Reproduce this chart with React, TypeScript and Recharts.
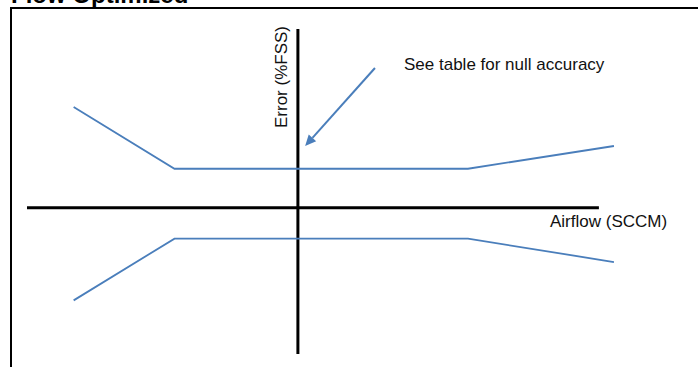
import React from "react";
import {
  LineChart,
  Line,
  XAxis,
  YAxis,
  ReferenceLine,
  Customized,
} from "recharts";

// Airflow (arbitrary units, 0 = null flow) and error envelope (%FSS)
const airflow = [-7.45, -4.1, 5.65, 10.5];
const upperError = [3.1, 1.2, 1.2, 1.9];
const lowerError = [-2.85, -0.95, -0.95, -1.67];

// axis extents and annotation arrow, in data units
const X_DOMAIN: [number, number] = [-9, 11];
const Y_DOMAIN: [number, number] = [-4.5, 5.5];
const X_AXIS_END = 10;
const ARROW_FROM = { x: 2.56, y: 4.3 };
const ARROW_TO = { x: 0.24, y: 1.9 };

const LINE_BLUE = "#4a7ebb";
const FONT = "'Liberation Sans', Arial, sans-serif";

const data = airflow.map((x, i) => ({
  x,
  upper: upperError[i],
  lower: lowerError[i],
}));

// shaft + filled head for the callout arrow
const ArrowShape = (props: any) => {
  const { x1, y1, x2, y2 } = props;
  if ([x1, y1, x2, y2].some((v) => v == null || isNaN(v))) return null;
  const ang = Math.atan2(y2 - y1, x2 - x1);
  const len = 11;
  const half = 5;
  const bx = x2 - len * Math.cos(ang);
  const by = y2 - len * Math.sin(ang);
  const px = -Math.sin(ang) * half;
  const py = Math.cos(ang) * half;
  return (
    <g>
      <line x1={x1} y1={y1} x2={bx} y2={by} stroke={LINE_BLUE} strokeWidth={2} />
      <polygon
        points={`${x2},${y2} ${bx + px},${by + py} ${bx - px},${by - py}`}
        fill={LINE_BLUE}
      />
    </g>
  );
};

const Annotations = () => (
  <g fontFamily={FONT} fontSize={17} fill="#111">
    <text x={404} y={70}>See table for null accuracy</text>
    <text x={550} y={227}>Airflow (SCCM)</text>
    <text x={287} y={77} textAnchor="middle" transform="rotate(-90 287 77)">
      Error (%FSS)
    </text>
  </g>
);

export default function App() {
  return (
    <div style={{ position: "absolute", left: 0, top: 0, width: 698, height: 367, overflow: "hidden", background: "#fff" }}>
      {/* title, mostly clipped off the top edge */}
      <div
        style={{
          position: "absolute",
          left: 11,
          top: -19,
          fontFamily: FONT,
          fontWeight: "bold",
          fontSize: 24,
          lineHeight: "27px",
          whiteSpace: "nowrap",
        }}
      >
        Flow Optimized
      </div>
      {/* frame: top and left edges */}
      <div
        style={{
          position: "absolute",
          left: 10,
          top: 7,
          width: 700,
          height: 400,
          borderTop: "2px solid #000",
          borderLeft: "2px solid #000",
        }}
      />
      <div style={{ position: "absolute", left: 0, top: 0 }}>
        <LineChart
          width={698}
          height={367}
          data={data}
          margin={{ top: 29, right: 69, bottom: 13, left: 27 }}
        >
          <XAxis type="number" dataKey="x" domain={X_DOMAIN} hide />
          <YAxis type="number" domain={Y_DOMAIN} hide />
          <ReferenceLine
            segment={[
              { x: X_DOMAIN[0], y: 0 },
              { x: X_AXIS_END, y: 0 },
            ]}
            stroke="#000"
            strokeWidth={3}
          />
          <ReferenceLine
            segment={[
              { x: 0, y: Y_DOMAIN[0] },
              { x: 0, y: Y_DOMAIN[1] },
            ]}
            stroke="#000"
            strokeWidth={3}
          />
          <Line
            dataKey="upper"
            stroke={LINE_BLUE}
            strokeWidth={1.8}
            dot={false}
            activeDot={false}
            isAnimationActive={false}
          />
          <Line
            dataKey="lower"
            stroke={LINE_BLUE}
            strokeWidth={1.8}
            dot={false}
            activeDot={false}
            isAnimationActive={false}
          />
          <ReferenceLine segment={[ARROW_FROM, ARROW_TO]} shape={ArrowShape} />
          <Customized component={Annotations} />
        </LineChart>
      </div>
    </div>
  );
}
